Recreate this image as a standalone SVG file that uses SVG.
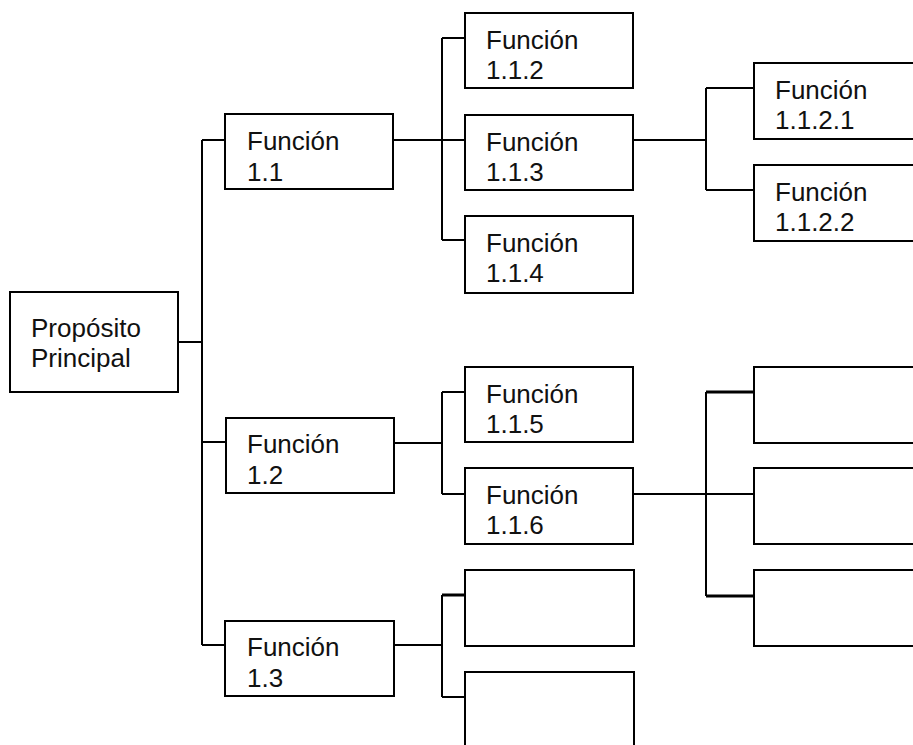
<svg xmlns="http://www.w3.org/2000/svg" width="913" height="745" viewBox="0 0 913 745">
<style>
.b{fill:#fff;stroke:#000;stroke-width:2}
.t{font-family:"Liberation Sans",Arial,Helvetica,sans-serif;font-size:26px;fill:#111}
.c{fill:none;stroke:#000;stroke-width:2}
.k{fill:none;stroke:#000;stroke-width:3}
</style>
<rect width="913" height="745" fill="#fff"/>
<g id="connectors">
<path class="c" d="M178,342H202M202,140V645M202,140H225M202,442H226M202,645H225"/>
<path class="c" d="M393,140H465M442,38V240M442,38H465M442,240H465"/>
<path class="c" d="M633,140H706M706,88V190M706,88H754M706,190H754"/>
<path class="c" d="M394,443H442M442,392V494M442,392H465M442,494H465"/>
<path class="c" d="M633,494H754M706,392V596"/>
<path class="k" d="M706,392H754M706,596H754"/>
<path class="c" d="M394,645H442M442,595V697M442,697H465"/>
<path class="k" d="M442,595H465"/>
</g>
<g id="n_proposito"><rect class="b" x="10" y="292" width="168" height="100"/><text class="t" x="31" y="337">Propósito</text><text class="t" x="31" y="367">Principal</text></g>
<g id="n_1_1"><rect class="b" x="225" y="114" width="168" height="75"/><text class="t" x="247" y="150">Función</text><text class="t" x="247" y="181">1.1</text></g>
<g id="n_1_2"><rect class="b" x="226" y="418" width="168" height="75"/><text class="t" x="247" y="453">Función</text><text class="t" x="247" y="484">1.2</text></g>
<g id="n_1_3"><rect class="b" x="225" y="621" width="169" height="75"/><text class="t" x="247" y="656">Función</text><text class="t" x="247" y="687">1.3</text></g>
<g id="n_1_1_2"><rect class="b" x="465" y="13" width="168" height="75"/><text class="t" x="486" y="49">Función</text><text class="t" x="486" y="79">1.1.2</text></g>
<g id="n_1_1_3"><rect class="b" x="465" y="115" width="168" height="75"/><text class="t" x="486" y="151">Función</text><text class="t" x="486" y="181">1.1.3</text></g>
<g id="n_1_1_4"><rect class="b" x="465" y="216" width="168" height="77"/><text class="t" x="486" y="252">Función</text><text class="t" x="486" y="282">1.1.4</text></g>
<g id="n_1_1_5"><rect class="b" x="465" y="367" width="168" height="75"/><text class="t" x="486" y="403">Función</text><text class="t" x="486" y="433">1.1.5</text></g>
<g id="n_1_1_6"><rect class="b" x="465" y="468" width="168" height="76"/><text class="t" x="486" y="504">Función</text><text class="t" x="486" y="534">1.1.6</text></g>
<g id="n_empty_a"><rect class="b" x="465" y="570" width="169" height="76"/></g>
<g id="n_empty_b"><rect class="b" x="465" y="672" width="169" height="90"/></g>
<g id="n_1_1_2_1"><rect class="b" x="754" y="63" width="180" height="76"/><text class="t" x="775" y="99">Función</text><text class="t" x="775" y="129">1.1.2.1</text></g>
<g id="n_1_1_2_2"><rect class="b" x="754" y="165" width="180" height="76"/><text class="t" x="775" y="201">Función</text><text class="t" x="775" y="231">1.1.2.2</text></g>
<g id="n_r1"><rect class="b" x="754" y="367" width="180" height="76"/></g>
<g id="n_r2"><rect class="b" x="754" y="468" width="180" height="76"/></g>
<g id="n_r3"><rect class="b" x="754" y="570" width="180" height="76"/></g>
</svg>
